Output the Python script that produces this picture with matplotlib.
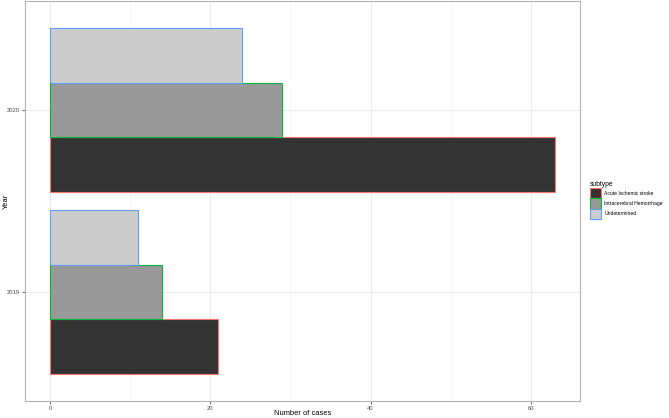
import matplotlib
matplotlib.use("Agg")
import matplotlib.pyplot as plt
from matplotlib.patches import Patch
import numpy as np

plt.rcParams['font.family'] = ['Liberation Sans', 'DejaVu Sans']

years = ["2019", "2020"]
subtypes = ["Acute Ischemic stroke", "Intracerebral Hemorrhage", "Undetermined"]
values = {
    "Acute Ischemic stroke": [21, 63],
    "Intracerebral Hemorrhage": [14, 29],
    "Undetermined": [11, 24],
}
fills = ["#333333", "#999999", "#CCCCCC"]
edges = ["#F8766D", "#00BA38", "#619CFF"]

W, H = 669, 418
fig = plt.figure(figsize=(W/100, H/100), dpi=100)
L, R, T, B = 25, 580, 1, 401
ax = fig.add_axes([L/W, 1 - B/H, (R-L)/W, (B-T)/H])

n = len(subtypes)
width = 0.9 / n
ypos = np.arange(1, len(years) + 1)
for i, s in enumerate(subtypes):
    off = -0.45 + width * (i + 0.5)
    ax.barh(ypos + off, values[s], height=width, color=fills[i],
            edgecolor=edges[i], linewidth=0.8, zorder=3)

ax.set_xlim(-3.15, 66.15)
ax.set_ylim(0.4, 2.6)
ax.set_yticks(ypos)
ax.set_yticklabels(years)
ax.set_xticks([0, 20, 40, 60])
ax.set_xticks([10, 30, 50], minor=True)
ax.grid(True, which="major", color="#EBEBEB", linewidth=0.8, zorder=0)
ax.grid(True, which="minor", axis="x", color="#F4F4F4", linewidth=0.5, zorder=0)
ax.tick_params(axis="both", which="major", labelsize=4.2, labelcolor="#4D4D4D",
               color="#333333", length=2.2, width=0.5, pad=1.5)
ax.tick_params(axis="both", which="minor", length=0)
for sp in ax.spines.values():
    sp.set_color("#B3B3B3")
    sp.set_linewidth(0.8)

fig.text((L + R) / 2 / W, 1 - 413.5/H, "Number of cases", fontsize=5.4,
         ha="center", va="center")
fig.text(6/W, 1 - ((T + B) / 2)/H, "Year", fontsize=5.4, rotation=90,
         ha="center", va="center")

handles = [Patch(facecolor=fills[i], edgecolor=edges[i], linewidth=0.8, label=subtypes[i])
           for i in range(n)]
leg = fig.legend(handles=handles, title="subtype", loc="upper left",
                 bbox_to_anchor=(590/W, 1 - 181/H), frameon=False,
                 fontsize=3.6, title_fontsize=4.8, handlelength=2.2, handleheight=2.8,
                 handletextpad=0.7, labelspacing=0.0, borderaxespad=0, borderpad=0)
leg._legend_box.align = "left"

fig.savefig("out.png", dpi=100)
